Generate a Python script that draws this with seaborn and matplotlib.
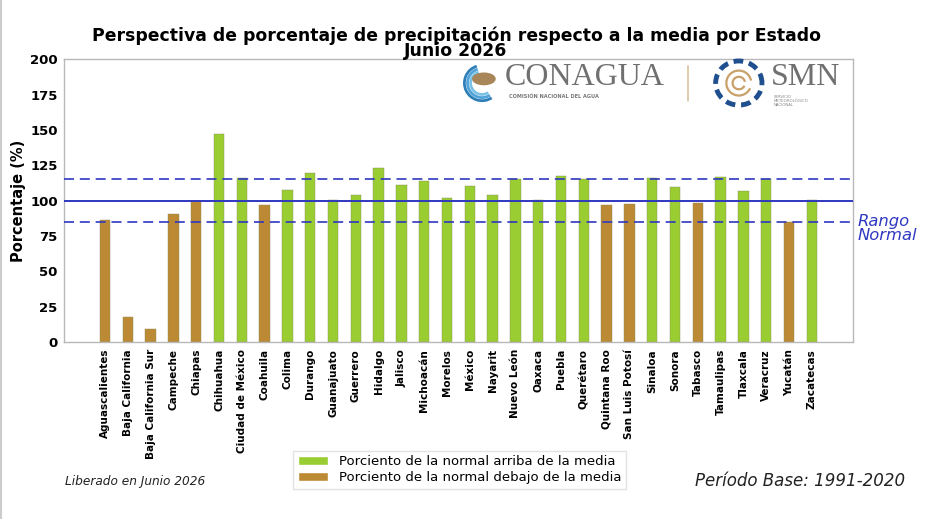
import numpy as np
import pandas as pd
import matplotlib
matplotlib.use("Agg")
import matplotlib.pyplot as plt
import matplotlib.patches as mpatches
import seaborn as sns

# Datos
estados = [
    "Aguascalientes", "Baja California", "Baja California Sur", "Campeche",
    "Chiapas", "Chihuahua", "Ciudad de México", "Coahuila", "Colima",
    "Durango", "Guanajuato", "Guerrero", "Hidalgo", "Jalisco", "Michoacán",
    "Morelos", "México", "Nayarit", "Nuevo León", "Oaxaca", "Puebla",
    "Querétaro", "Quintana Roo", "San Luis Potosí", "Sinaloa", "Sonora",
    "Tabasco", "Tamaulipas", "Tlaxcala", "Veracruz", "Yucatán", "Zacatecas",
]
porcentaje = [
    86.6, 18.0, 9.0, 90.6, 99.6, 147.3, 116.0, 97.2, 107.8, 119.3,
    100.3, 104.2, 123.3, 111.3, 113.9, 102.1, 110.1, 103.8, 115.5, 100.2,
    117.4, 115.5, 96.7, 97.6, 116.0, 109.4, 98.4, 116.9, 107.0, 115.5,
    85.2, 100.3,
]
etiqueta_arriba = "Porciento de la normal arriba de la media"
etiqueta_debajo = "Porciento de la normal debajo de la media"
media = 100
rango_inf, rango_sup = 85, 115

color_arriba = "#9acd32"
color_debajo = "#bc8a35"
color_linea = "#2f38c0"

df = pd.DataFrame({"estado": estados, "porcentaje": porcentaje})
df["categoria"] = np.where(df["porcentaje"] >= media, etiqueta_arriba, etiqueta_debajo)

sns.set_style("white")
plt.rcParams["font.family"] = ["DejaVu Sans"]
plt.rcParams["text.color"] = "black"
plt.rcParams["axes.labelcolor"] = "black"
plt.rcParams["xtick.color"] = "black"
plt.rcParams["ytick.color"] = "black"

fig = plt.figure(figsize=(9.27, 5.19), dpi=100)
ax = fig.add_axes([0.069, 0.341, 0.851, 0.545])

sns.barplot(data=df, x="estado", y="porcentaje", hue="categoria",
            hue_order=[etiqueta_arriba, etiqueta_debajo],
            palette={etiqueta_arriba: color_arriba, etiqueta_debajo: color_debajo},
            dodge=False, width=0.45, saturation=1, edgecolor="#8a8a5a",
            linewidth=0.3, legend=False, ax=ax)

ax.axhline(media, color=color_linea, lw=1.4, zorder=3)
ax.axhline(rango_sup, color=color_linea, lw=1.2, ls=(0, (6, 3.5)), zorder=3)
ax.axhline(rango_inf, color=color_linea, lw=1.2, ls=(0, (6, 3.5)), zorder=3)

ax.set_xlim(-1.8, len(estados) + 0.8)
ax.set_ylim(0, 200)
ax.set_yticks(np.arange(0, 201, 25))
ax.set_xlabel("")
ax.set_ylabel("Porcentaje (%)", fontsize=10.5, fontweight="bold", labelpad=3)
ax.tick_params(axis="y", labelsize=9.5, length=2.5, pad=2, color="#888888")
ax.tick_params(axis="x", labelsize=7.5, rotation=90, length=3, pad=2, color="#888888")
for lbl in ax.get_yticklabels() + ax.get_xticklabels():
    lbl.set_fontweight("bold")
for sp in ax.spines.values():
    sp.set_color("#b8b8b8")
    sp.set_linewidth(1.0)

ax.text(1.006, 0.40, "Rango\nNormal", transform=ax.transAxes, color=color_linea,
        fontsize=11.8, fontstyle="italic", ha="left", va="center", linespacing=0.9)

fig.text(0.492, 0.884, "Perspectiva de porcentaje de precipitación respecto a la media por Estado\nJunio 2026",
         ha="center", va="bottom", fontsize=12.4, fontweight="bold", linespacing=0.82)

# Logos (aproximados con texto y formas)
fig.text(0.544, 0.851, "CONAGUA", fontsize=23, color="#707070",
         family="Liberation Serif", ha="left", va="center")
fig.text(0.549, 0.815, "COMISIÓN NACIONAL DEL AGUA", fontsize=3.6, color="#777777",
         fontweight="bold", ha="left", va="center")
fig.add_artist(plt.Line2D([0.742, 0.742], [0.805, 0.872], color="#d8c3a0",
                          lw=1.2, transform=fig.transFigure))
fig.text(0.832, 0.851, "SMN", fontsize=23, color="#707070",
         family="Liberation Serif", ha="left", va="center")
fig.text(0.835, 0.806, "SERVICIO\nMETEOROLÓGICO\nNACIONAL", fontsize=2.8,
         color="#888888", ha="left", va="center", linespacing=1.0)
for r, c in [(0.034, "#2e7fb8"), (0.028, "#4fa3d8"), (0.022, "#7cc1e6")]:
    fig.add_artist(mpatches.Arc((0.52, 0.84), r * 2 * 519 / 927, r * 2, theta1=100,
                                theta2=290, color=c, lw=2.0, transform=fig.transFigure))
fig.add_artist(mpatches.Ellipse((0.522, 0.848), 0.024, 0.022, color="#a8865a",
                                transform=fig.transFigure))
fig.add_artist(mpatches.Arc((0.797, 0.84), 0.05, 0.085, theta1=0, theta2=360,
                            color="#1f4f8f", lw=3.5, ls=(0, (2, 1.2)),
                            transform=fig.transFigure))
for r in [0.012, 0.024]:
    fig.add_artist(mpatches.Arc((0.797, 0.84), r * 519 / 927 * 2, r * 2, theta1=20,
                                theta2=320, color="#c8a06a", lw=1.6,
                                transform=fig.transFigure))

handles = [mpatches.Patch(facecolor=color_arriba, label=etiqueta_arriba),
           mpatches.Patch(facecolor=color_debajo, label=etiqueta_debajo)]
fig.legend(handles=handles, loc="center", bbox_to_anchor=(0.496, 0.095),
           fontsize=9.5, frameon=True, edgecolor="#dddddd", fancybox=False,
           handlelength=2.3, handleheight=0.7, borderpad=0.35, labelspacing=0.2,
           handletextpad=0.8)

fig.text(0.070, 0.072, "Liberado en Junio 2026", fontsize=8.7, fontstyle="italic",
         color="#222222", ha="left", va="center")
fig.text(0.750, 0.073, "Período Base: 1991-2020", fontsize=12, fontstyle="italic",
         color="#222222", ha="left", va="center")

fig.add_artist(plt.Line2D([0.0015, 0.0015], [0, 1], color="#cccccc", lw=1.5,
                          transform=fig.transFigure))

fig.savefig("out.png", dpi=100)
